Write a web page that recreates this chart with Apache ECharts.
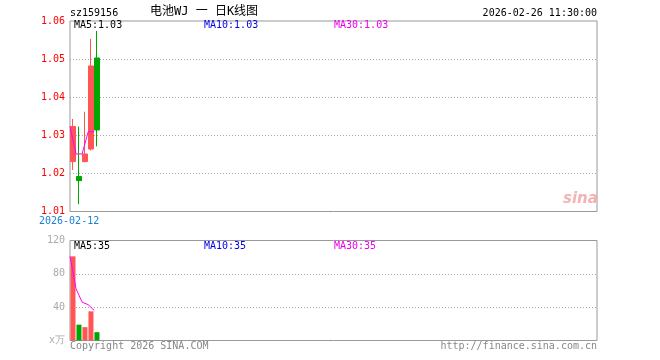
<!DOCTYPE html>
<html>
<head>
<meta charset="utf-8">
<script src="https://cdn.jsdelivr.net/npm/echarts@6/dist/echarts.min.js"></script>
<style>
html,body{margin:0;padding:0;background:#fff;}
#c{width:660px;height:360px;}
</style>
</head>
<body>
<div id="c"></div>
<script>
// ---- data ----
var dates = ['2026-02-12', '2026-02-13', '2026-02-24', '2026-02-25', '2026-02-26'];
var opens  = [1.0231, 1.0192, 1.0231, 1.0264, 1.0503];
var closes = [1.0323, 1.0181, 1.0251, 1.0482, 1.0314];
var lows   = [1.0209, 1.0119, 1.0229, 1.0260, 1.0271];
var highs  = [1.0343, 1.0323, 1.0362, 1.0553, 1.0574];
var ma5Price = [1.0323, 1.0251, 1.0251, 1.0309, 1.0310];
var volumes = [101, 19, 16, 35, 10];
var ma5Vol  = [101, 62, 46, 43, 36];
var priceTicks = [1.01, 1.02, 1.03, 1.04, 1.05, 1.06];
var volTicks = [0, 40, 80, 120];
var slotCount = 88;

var headerCode = 'sz159156';
var headerTitle = '电池WJ 一 日K线图';
var headerTime = '2026-02-26 11:30:00';
var priceLegend = ['MA5:1.03', 'MA10:1.03', 'MA30:1.03'];
var volLegend = ['MA5:35', 'MA10:35', 'MA30:35'];
var volUnit = 'x万';
var footerLeft = 'Copyright 2026 SINA.COM';
var footerRight = 'http://finance.sina.com.cn';

// ---- build ----
var slots = [];
for (var i = 0; i < slotCount; i++) slots.push(i < dates.length ? dates[i] : '');
var kData = dates.map(function (d, i) { return [opens[i], closes[i], lows[i], highs[i]]; });
var RED = '#ff5555', GREEN = '#00a600';
var volData = volumes.map(function (v, i) {
  return { value: v, itemStyle: { color: closes[i] >= opens[i] ? RED : GREEN } };
});

var MONO = '"DejaVu Sans Mono", monospace';
var legendColors = ['#000000', '#0000ee', '#ee00ee'];
var legendX = [74, 204, 334];

var graphics = [
  { type: 'text', left: 70, top: 8, style: { text: headerCode, font: '10px ' + MONO, fill: '#000' } },
  { type: 'text', left: 150, top: 6, style: { text: headerTitle, font: '12px "DejaVu Sans Mono", "Noto Sans CJK SC"', fill: '#000' } },
  { type: 'text', right: 63, top: 8, style: { text: headerTime, font: '10px ' + MONO, fill: '#000' } },
  { type: 'text', left: 39, top: 216, style: { text: dates[0], font: '10px ' + MONO, fill: '#1a80d0' } },
  { type: 'text', left: 70, top: 341, style: { text: footerLeft, font: '10px ' + MONO, fill: '#888' } },
  { type: 'text', right: 63, top: 341, style: { text: footerRight, font: '10px ' + MONO, fill: '#888' } },
  { type: 'text', left: 563, top: 192, style: { text: 'sina', font: 'italic bold 15px "DejaVu Sans"', fill: '#f0a0a0', opacity: 0.8 } }
];
priceLegend.forEach(function (t, i) {
  graphics.push({ type: 'text', left: legendX[i], top: 20, style: { text: t, font: '10px ' + MONO, fill: legendColors[i] } });
});
volLegend.forEach(function (t, i) {
  graphics.push({ type: 'text', left: legendX[i], top: 241, style: { text: t, font: '10px ' + MONO, fill: legendColors[i] } });
});

var hiddenCat = function (grid, gap) {
  return { type: 'category', gridIndex: grid, data: slots, boundaryGap: gap,
    axisLine: { show: false }, axisTick: { show: false }, axisLabel: { show: false }, splitLine: { show: false } };
};

var option = {
  animation: false,
  backgroundColor: '#fff',
  grid: [
    { left: 70, right: 63, top: 21, height: 190.5, show: true, borderColor: '#999', borderWidth: 1, backgroundColor: 'transparent' },
    { left: 70, right: 63, top: 240.5, height: 100, show: true, borderColor: '#999', borderWidth: 1, backgroundColor: 'transparent' }
  ],
  xAxis: [hiddenCat(0, true), hiddenCat(0, false), hiddenCat(1, true), hiddenCat(1, false)],
  yAxis: [
    { type: 'value', gridIndex: 0, min: priceTicks[0], max: priceTicks[priceTicks.length - 1], interval: 0.01,
      axisLine: { show: false }, axisTick: { show: false },
      axisLabel: { color: '#ff0000', fontSize: 10, fontFamily: MONO, margin: 5, formatter: function (v) { return v.toFixed(2); } },
      splitLine: { show: true, showMinLine: false, showMaxLine: false, lineStyle: { color: '#aaa', type: [1, 2], width: 1 } } },
    { type: 'value', gridIndex: 1, min: volTicks[0], max: volTicks[volTicks.length - 1], interval: 40,
      axisLine: { show: false }, axisTick: { show: false },
      axisLabel: { color: '#aaa', fontSize: 10, fontFamily: MONO, margin: 5, formatter: function (v) { return v === 0 ? volUnit : String(v); } },
      splitLine: { show: true, showMinLine: false, showMaxLine: false, lineStyle: { color: '#aaa', type: [1, 2], width: 1 } } }
  ],
  series: [
    { type: 'candlestick', xAxisIndex: 0, yAxisIndex: 0, data: kData, barWidth: 5,
      itemStyle: { color: RED, color0: GREEN, borderColor: RED, borderColor0: GREEN, borderWidth: 1 } },
    { type: 'line', xAxisIndex: 1, yAxisIndex: 0, data: ma5Price, showSymbol: false, symbol: 'none',
      lineStyle: { color: '#ff00ff', width: 1 } },
    { type: 'bar', xAxisIndex: 2, yAxisIndex: 1, data: volData, barWidth: 5 },
    { type: 'line', xAxisIndex: 3, yAxisIndex: 1, data: ma5Vol, showSymbol: false, symbol: 'none',
      lineStyle: { color: '#ff00ff', width: 1 } }
  ],
  graphic: graphics
};

var chart = echarts.init(document.getElementById('c'), null, { renderer: 'canvas' });
chart.setOption(option);
</script>
</body>
</html>
